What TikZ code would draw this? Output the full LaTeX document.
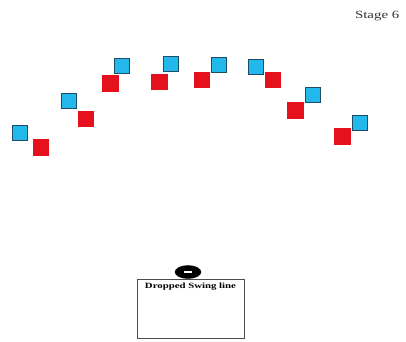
\documentclass[tikz,border=0pt]{standalone}
\usepackage{fontspec}
\setmainfont{Liberation Serif}
\usetikzlibrary{shapes.geometric}
\definecolor{bluefill}{HTML}{22B8EC}
\definecolor{blueedge}{HTML}{1E4E66}
\definecolor{redfill}{HTML}{E5111C}
\begin{document}
\begin{tikzpicture}[x=1pt,y=-1pt,
  bluesq/.style={draw=blueedge,line width=1pt,fill=bluefill,minimum size=15pt,inner sep=0pt},
  redsq/.style={draw=redfill,line width=0.5pt,fill=redfill,minimum size=15.5pt,inner sep=0pt}]
\useasboundingbox (0,0) rectangle (406,341);
\node[anchor=east,font=\fontsize{11}{12}\selectfont,xscale=1.35,text=black!80] (stage) at (404,16.5) {Stage 6};
% blue squares
\node[bluesq] (b1) at (19.5,133) {};
\node[bluesq] (b2) at (69,100.5) {};
\node[bluesq] (b3) at (121.5,65.5) {};
\node[bluesq] (b4) at (170.5,64) {};
\node[bluesq] (b5) at (219,65) {};
\node[bluesq] (b6) at (256,67) {};
\node[bluesq] (b7) at (313,95) {};
\node[bluesq] (b8) at (360,122.5) {};
% red squares
\node[redsq] (r1) at (40.5,147) {};
\node[redsq] (r2) at (85.5,118.5) {};
\node[redsq] (r3) at (110,83) {};
\node[redsq] (r4) at (159,81.5) {};
\node[redsq] (r5) at (201.5,79.5) {};
\node[redsq] (r6) at (272.5,79.5) {};
\node[redsq] (r7) at (295,110) {};
\node[redsq] (r8) at (342,136) {};
% box
\node[draw=black!70,line width=0.8pt,minimum width=107pt,minimum height=59pt,inner sep=0pt] (box) at (190.5,308.5) {};
\node[font=\fontsize{8}{9}\selectfont\bfseries,xscale=1.35,anchor=north] (lbl) at ([yshift=-1pt]box.north) {Dropped Swing line};
\node[ellipse,draw=black,fill=black,minimum width=26pt,minimum height=13pt,inner sep=0pt] (ring) at (188,272) {};
\node[fill=white,minimum width=8pt,minimum height=1.5pt,inner sep=0pt] (slot) at (ring.center) {};
\end{tikzpicture}
\end{document}
